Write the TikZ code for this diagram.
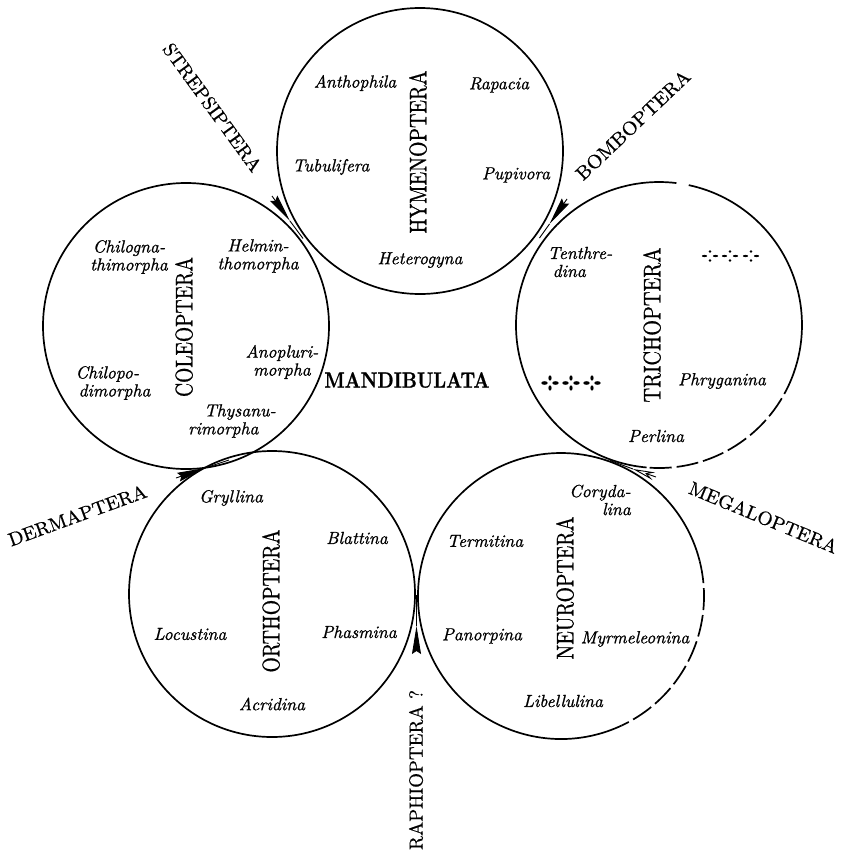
\documentclass[tikz,border=0pt]{standalone}
\usepackage{graphicx}
\usepackage{fontspec}
\newfontfamily\heavyfont{lmroman10}[Extension=.otf, UprightFont=*-regular, ItalicFont=*-italic, BoldFont=*-bold, BoldItalicFont=*-bolditalic, FakeBold=0.9]
\newfontfamily\linkfont{lmroman10}[Extension=.otf, UprightFont=*-regular, ItalicFont=*-italic, BoldFont=*-bold, BoldItalicFont=*-bolditalic, FakeBold=0.5]
\usetikzlibrary{arrows.meta,calc}
\newcommand{\sizedcaps}[3]{\resizebox{#1}{\height}{\fontsize{#2}{#2}\selectfont #3}}
\tikzset{
  ring/.style={line width=1.7pt},
  brokenline/.style={dash pattern=on 22pt off 5pt},
  ital/.style={font=\heavyfont\fontsize{17.5}{18}\selectfont\itshape, inner sep=0pt, align=center},
  ordername/.style={rotate=90, inner sep=0pt, font=\heavyfont},
  linkname/.style={inner sep=0pt, font=\linkfont},
  linkhead/.style={line width=0.9pt, -{Stealth[length=28pt,width=9pt,inset=3pt]}},
  linkopen/.style={line width=0.9pt, -{Stealth[open,length=22pt,width=8pt]}},
  linkshaft/.style={line width=0.9pt},
  dotcross/.pic={
    \fill (-5.5,0) ellipse[x radius=2.6, y radius=1.1];
    \fill (5.5,0) ellipse[x radius=2.6, y radius=1.1];
    \fill (0,-4.5) circle[radius=1.3];
    \fill (0,4.5) circle[radius=1.3];
  },
  boldcross/.pic={
    \fill (-5.5,0) ellipse[x radius=3.2, y radius=1.8];
    \fill (5.5,0) ellipse[x radius=3.2, y radius=1.8];
    \fill (0,-5) ellipse[x radius=1.6, y radius=2.6];
    \fill (0,5) ellipse[x radius=1.6, y radius=2.6];
  }
}
\begin{document}
\begin{tikzpicture}[x=1pt,y=-1pt]
\useasboundingbox (0,0) rectangle (848,857);
\fill[white] (0,0) rectangle (848,857);

% circle centres
\coordinate (H) at (420,151);
\coordinate (C) at (186,326);
\coordinate (T) at (659,325);
\coordinate (O) at (272,594);
\coordinate (N) at (561,596);

% tangent points
\coordinate (tHC) at ($(H)!0.5!(C)$);
\coordinate (tHT) at ($(H)!0.5!(T)$);
\coordinate (tTN) at ($(T)!0.5!(N)$);
\coordinate (tNO) at ($(N)!0.5!(O)$);
\coordinate (tOC) at ($(O)!0.5!(C)$);

% circles
\draw[ring] (H) circle[radius=143];
\draw[ring] (C) circle[radius=143];
\draw[ring] (O) circle[radius=143];
\draw[ring] ($(T)+(95:143)$) arc[start angle=95, end angle=277, radius=143];
\draw[ring] ($(T)+(-78:143)$) arc[start angle=-78, end angle=20, radius=143];
\draw[ring, brokenline] ($(T)+(20:143)$) arc[start angle=20, end angle=95, radius=143];
\draw[ring] ($(N)+(65:143)$) arc[start angle=65, end angle=346, radius=143];
\draw[ring, brokenline] ($(N)+(-14:143)$) arc[start angle=-14, end angle=65, radius=143];

% link arrows
\coordinate (aHCb) at (272,196);
\coordinate (aHCt) at (290,221);
\coordinate (aHTb) at (567,199);
\coordinate (aHTt) at (549.5,224);
\coordinate (aOCb) at (176,478);
\coordinate (aOCt) at (205,468);
\coordinate (aTNb) at (656,477);
\coordinate (aTNt) at (633,469);
\coordinate (aNOb) at (416.5,650);
\coordinate (aNOt) at (416.5,626);
\draw[linkhead] (aHCb) -- (aHCt);
\draw[linkshaft] (aHCt) -- (tHC);
\draw[linkhead] (aHTb) -- (aHTt);
\draw[linkshaft] (aHTt) -- (tHT);
\draw[linkhead] (aOCb) -- (aOCt);
\draw[linkshaft] (aOCt) -- (tOC);
\draw[linkopen] (aTNb) -- (aTNt);
\draw[linkshaft] (aTNt) -- (tTN);
\draw[linkhead] (aNOb) -- (aNOt);
\draw[linkshaft] (aNOt) -- (tNO);

% Hymenoptera
\node[ordername] (hym) at (418,152) {\sizedcaps{163pt}{24}{HYMENOPTERA}};
\node[ital] (antho) at (355,83) {Anthophila};
\node[ital] (rapac) at (499,85) {Rapacia};
\node[ital] (tubul) at (331,167) {Tubulifera};
\node[ital] (pupiv) at (516,175) {Pupivora};
\node[ital] (heter) at (420,260) {Heterogyna};

% Coleoptera
\node[ordername] (col) at (184,327) {\sizedcaps{140pt}{24}{COLEOPTERA}};
\node[ital] (chilg) at (129,257) {Chilogna-\\thimorpha};
\node[ital] (helm) at (258,256) {Helmin-\\thomorpha};
\node[ital] (anopl) at (282,362) {Anopluri-\\morpha};
\node[ital, align=left] (chilp) at (113,383) {Chilopo-\\\hspace*{3pt}dimorpha};
\node[ital, align=left] (thysa) at (232,421) {\hspace*{16pt}Thysanu-\\rimorpha};

% Trichoptera
\node[ordername] (tri) at (652,325) {\sizedcaps{155pt}{24}{TRICHOPTERA}};
\node[ital, align=left] (tenth) at (580,262) {Tenthre-\\\hspace*{5pt}dina};
\node[ital] (phryg) at (722,381) {Phryganina};
\node[ital] (perl) at (656,436) {Perlina};
\pic at (710,256) {dotcross};
\pic at (730,256) {dotcross};
\pic at (751,256) {dotcross};
\pic at (550,383) {boldcross};
\pic at (571,383) {boldcross};
\pic at (592,383) {boldcross};

% Orthoptera
\node[ordername] (orth) at (271,601) {\sizedcaps{143pt}{24}{ORTHOPTERA}};
\node[ital] (gryll) at (231,498) {Gryllina};
\node[ital] (blatt) at (357,538) {Blattina};
\node[ital] (locus) at (190,634) {Locustina};
\node[ital] (phasm) at (359,632) {Phasmina};
\node[ital] (acrid) at (272,704) {Acridina};

% Neuroptera
\node[ordername] (neur) at (565,588) {\sizedcaps{143pt}{24}{NEUROPTERA}};
\node[ital, align=right] (coryd) at (600,500) {Coryda-\\lina};
\node[ital] (termi) at (485,541) {Termitina};
\node[ital] (panor) at (482,636) {Panorpina};
\node[ital] (myrme) at (635,639) {Myrmeleonina};
\node[ital] (libel) at (563,701) {Libellulina};

% linking groups
\node[linkname, rotate=-54] (strep) at (212.5,107.5) {\sizedcaps{154pt}{19}{STREPSIPTERA}};
\node[linkname, rotate=43.5] (bomb) at (633,125) {\sizedcaps{150pt}{19}{BOMBOPTERA}};
\node[linkname, rotate=20] (derm) at (77.5,515.5) {\sizedcaps{146pt}{19}{DERMAPTERA}};
\node[linkname, rotate=-22.5] (mega) at (763.5,517.5) {\sizedcaps{159pt}{19}{MEGALOPTERA}};
\node[linkname, rotate=90] (raph) at (416,770) {\sizedcaps{160pt}{19}{RAPHIOPTERA ?}};

% centre
\node[inner sep=0pt, font=\heavyfont] (mand) at (407,380) {\sizedcaps{165pt}{22}{\bfseries MANDIBULATA}};
\end{tikzpicture}
\end{document}
